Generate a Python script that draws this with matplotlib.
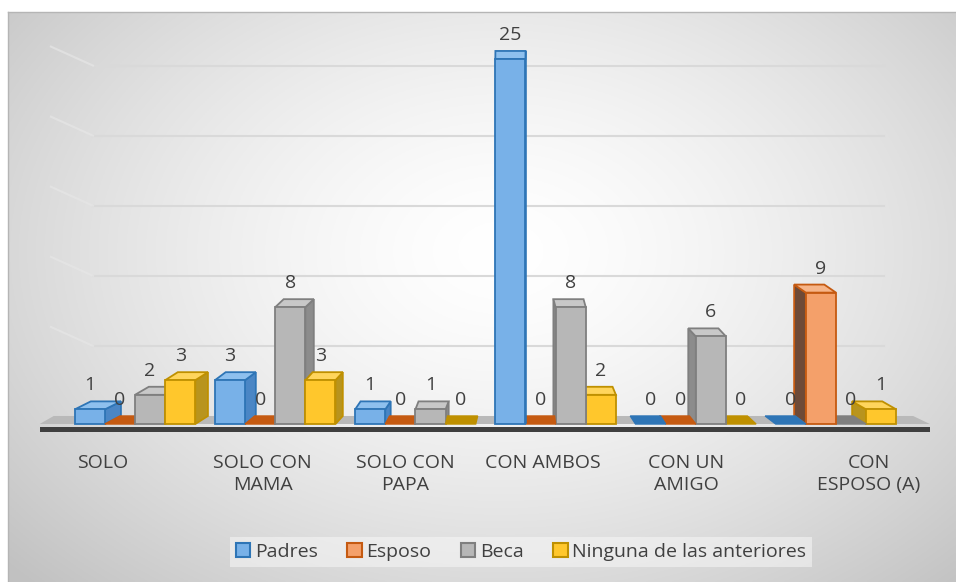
import matplotlib.pyplot as plt
import numpy as np
from matplotlib.patches import Polygon, Rectangle, Patch

plt.rcParams['font.family'] = ['Open Sans', 'DejaVu Sans']

# datos
categorias = ["SOLO", "SOLO CON\nMAMA", "SOLO CON\nPAPA", "CON AMBOS", "CON UN\nAMIGO", "CON\nESPOSO (A)"]
series = ["Padres", "Esposo", "Beca", "Ninguna de las anteriores"]
padres = [1, 3, 1, 25, 0, 0]
esposo = [0, 0, 0, 0, 0, 9]
beca = [2, 8, 1, 8, 6, 0]
ninguna = [3, 3, 0, 2, 0, 1]
valores = [padres, esposo, beca, ninguna]

# estilo de las barras (frente, borde, lado, tapa)
front_c = ["#78B1E8", "#F4A06A", "#B7B7B7", "#FFC72C"]
edge_c = ["#2E75B6", "#C55A11", "#7F7F7F", "#BF9000"]
side_c = ["#4A86C5", "#6E4A37", "#8C8C8C", "#B8941E"]
top_c = ["#8EC0EE", "#F6B488", "#C8C8C8", "#FFD55C"]

grid_vals = [5, 10, 15, 20, 25]
label_nudge = [-0.23, -0.09, -0.07, -0.09, -0.07, 0.235]

W, H = 956, 582
fig = plt.figure(figsize=(W / 100, H / 100), dpi=100)
fig.patch.set_facecolor("white")

# fondo con degradado radial
bg = fig.add_axes([8 / W, 0, 948 / W, 570 / H])
yy, xx = np.mgrid[0:1:300j, 0:1:500j]
d = np.sqrt(((xx - 0.52) / 0.70) ** 2 + ((yy - 0.42) / 0.82) ** 2)
d = np.clip(d, 0, 1) ** 1.5
shade = 1.0 - (1.0 - 0.76) * d
bg.imshow(np.dstack([shade, shade, shade]), aspect="auto", extent=(0, 1, 0, 1), origin="upper")
bg.set_xticks([])
bg.set_yticks([])
for s in ["right", "bottom"]:
    bg.spines[s].set_visible(False)
for s in ["top", "left"]:
    bg.spines[s].set_color("#B5B5B5")
    bg.spines[s].set_linewidth(1.0)

ax = fig.add_axes([0, 0, 1, 1])
ax.set_facecolor("none")
ax.set_xlim(-0.963, 5.856)
ax.set_ylim(-10.82, 29.04)
ax.axis("off")

w = 0.215
dy = 0.55
back_scale = 0.96
text_c = "#404040"

# paredes / lineas de cuadricula
for g in grid_vals:
    yg = g * back_scale + dy
    ax.plot([-0.30, 5.34], [yg, yg], color="#D9D9D9", lw=1.5, zorder=1)
    ax.plot([-0.60, -0.30], [yg + 1.3, yg], color="#E6E6E6", lw=1.5, alpha=0.7, zorder=1)

# piso
ax.add_patch(Polygon([(-0.68, 0), (5.67, 0), (5.55, dy), (-0.58, dy)],
                     closed=True, facecolor="#B9B9B9", edgecolor="none", zorder=2))
ax.add_patch(Rectangle((-0.68, -0.52), 6.35, 0.32, facecolor="#3F3F3F", edgecolor="none", zorder=2))

for j, vals in enumerate(valores):
    for i, v in enumerate(vals):
        x0 = i + (j - 2) * w
        xc = x0 + w / 2
        dx = 0.11 - 0.038 * (xc + 0.2)
        z = 10 + np.sign(dx) * xc
        top = [(x0, v), (x0 + w, v), (x0 + w + dx, v + dy), (x0 + dx, v + dy)]
        if v > 0:
            xs = x0 + w if dx > 0 else x0
            side = [(xs, 0), (xs, v), (xs + dx, v + dy), (xs + dx, dy)]
            ax.add_patch(Polygon(side, closed=True, facecolor=side_c[j], edgecolor=edge_c[j],
                                 lw=1.3, zorder=z))
            ax.add_patch(Polygon(top, closed=True, facecolor=top_c[j], edgecolor=edge_c[j],
                                 lw=1.3, zorder=z))
            ax.bar(x0, v, width=w, align="edge", color=front_c[j], edgecolor=edge_c[j],
                   linewidth=1.3, zorder=z + 0.01)
        else:
            ax.add_patch(Polygon(top, closed=True, facecolor=edge_c[j], edgecolor=edge_c[j],
                                 lw=1.0, zorder=z))
        ax.annotate(str(v), (xc, v), xytext=(0, 24), textcoords="offset pixels",
                    ha="center", va="center", fontsize=14, color=text_c, zorder=30)

for i, cat in enumerate(categorias):
    ax.text(i + label_nudge[i], -2.05, cat, ha="center", va="top", fontsize=14,
            color=text_c, linespacing=1.3, zorder=30)

handles = [Patch(facecolor=front_c[j], edgecolor=edge_c[j], linewidth=1.5) for j in range(4)]
leg = fig.legend(handles, series, loc="center", bbox_to_anchor=(521 / W, 1 - 552 / H),
                 ncol=4, frameon=True, fontsize=14, handlelength=0.75, handleheight=0.75,
                 handletextpad=0.25, columnspacing=1.5, borderpad=0.3, fancybox=False)
leg.get_frame().set_facecolor("#F7F7F7")
leg.get_frame().set_edgecolor("none")
leg.get_frame().set_alpha(0.55)
for t in leg.get_texts():
    t.set_color(text_c)

fig.savefig("out.png", dpi=100)
